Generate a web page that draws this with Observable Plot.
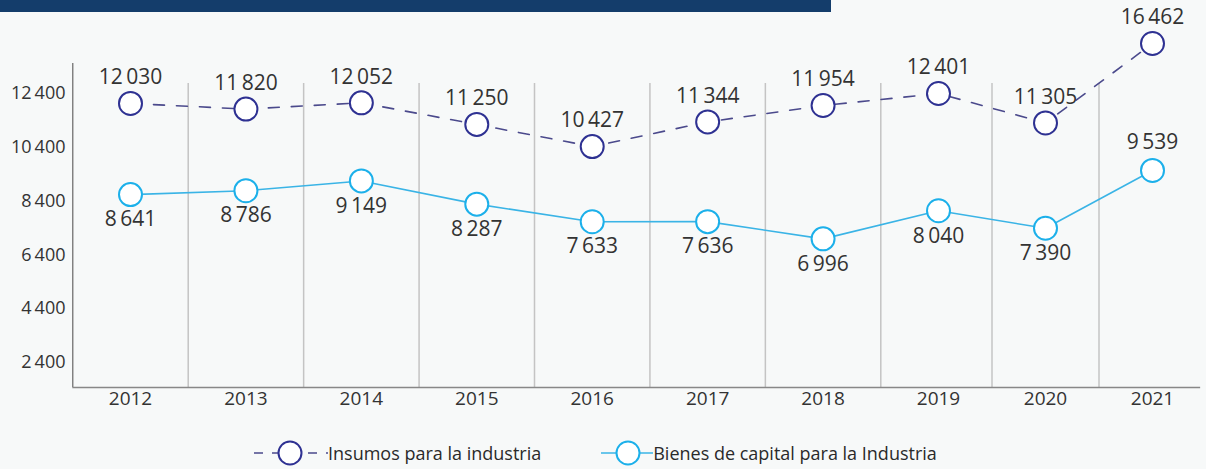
<!DOCTYPE html>
<html>
<head>
<meta charset="utf-8">
<script src="https://cdn.jsdelivr.net/npm/d3@7"></script>
<script src="https://cdn.jsdelivr.net/npm/@observablehq/plot@0.6"></script>
<style>
  html, body { margin: 0; padding: 0; background: #f7f9f9; width: 1206px; height: 469px; overflow: hidden; font-family: "Open Sans", sans-serif; }
  #topbar { position: absolute; left: 0; top: 0; width: 831px; height: 12px; background: #143d6b; }
  #chart { position: absolute; left: 0; top: 0; }
  #legend { position: absolute; left: 254px; top: 438px; display: flex; align-items: center; gap: 60px; font-size: 18px; color: #2a2a2a; }
  .item { display: flex; align-items: center; }
  .item svg { display: block; }
</style>
</head>
<body>
<div id="topbar"></div>
<div id="chart"></div>
<div id="legend"></div>
<script>
// ---- data ----
const years = [2012, 2013, 2014, 2015, 2016, 2017, 2018, 2019, 2020, 2021];
const insumos = [12030, 11820, 12052, 11250, 10427, 11344, 11954, 12401, 11305, 16462];
const bienes = [8641, 8786, 9149, 8287, 7633, 7636, 6996, 8040, 7390, 9539];
const yTicks = [2400, 4400, 6400, 8400, 10400, 12400];
const seriesNames = ["Insumos para la industria", "Bienes de capital para la Industria"];

// ---- styling / structure ----
const colInsLine = "#4b4a8c", colInsDot = "#2e3192";
const colBieLine = "#3ab4e6", colBieDot = "#1cb0ea";
const yBase = 1470, yAxisTop = 14840, gridTop = 13210;

const fmt = d3.formatLocale({decimal: ",", thousands: "\u2009", grouping: [3], currency: ["", ""]}).format(",d");

const ins = years.map((y, i) => ({year: y, value: insumos[i]}));
const bie = years.map((y, i) => ({year: y, value: bienes[i]}));
const bieMax = d3.max(bienes);
const bounds = years.slice(1).map(y => y - 0.5);

const chart = Plot.plot({
  width: 1206,
  height: 420,
  marginLeft: 72,
  marginRight: 0,
  marginTop: 0,
  marginBottom: 33,
  style: {fontFamily: "Open Sans, sans-serif", background: "transparent", overflow: "visible", color: "#333"},
  x: {type: "linear", domain: [2012, 2019, 2021], range: [130, 938, 1152], label: null},
  y: {type: "linear", domain: [yBase, 12400, 16462], range: [387, 93, 43], label: null},
  marks: [
    Plot.ruleX(bounds, {y1: yBase, y2: gridTop, stroke: "#c4c4c4", strokeWidth: 1.5}),
    Plot.ruleX([years[0] - 0.5], {y1: yBase, y2: yAxisTop, stroke: "#666", strokeWidth: 1.2}),
    Plot.ruleY([yBase], {x1: years[0] - 0.5, x2: 2021.45, stroke: "#888", strokeWidth: 1.5}),
    Plot.axisY({ticks: yTicks, tickSize: 0, tickPadding: 7, tickFormat: fmt, fontSize: 18, color: "#333", label: null}),
    Plot.axisX({ticks: years, tickSize: 0, tickPadding: 4, tickFormat: d => String(d), fontSize: 19, color: "#333", label: null}),
    Plot.line(ins, {x: "year", y: "value", stroke: colInsLine, strokeWidth: 1.6, strokeDasharray: "11,12"}),
    Plot.line(bie, {x: "year", y: "value", stroke: colBieLine, strokeWidth: 1.6}),
    Plot.dot(ins, {x: "year", y: "value", r: 11.5, fill: "white", stroke: colInsDot, strokeWidth: 2}),
    Plot.dot(bie, {x: "year", y: "value", r: 11.5, fill: "white", stroke: colBieDot, strokeWidth: 2}),
    Plot.text(ins, {x: "year", y: "value", text: d => fmt(d.value), dy: -26, fontSize: 21, fill: "#333"}),
    Plot.text(bie, {filter: d => d.value !== bieMax, x: "year", y: "value", text: d => fmt(d.value), dy: 25, fontSize: 21, fill: "#333"}),
    Plot.text(bie, {filter: d => d.value === bieMax, x: "year", y: "value", text: d => fmt(d.value), dy: -28, fontSize: 21, fill: "#333"})
  ]
});
document.getElementById("chart").appendChild(chart);

// ---- legend ----
const legend = document.getElementById("legend");
function swatch(w, cx, line, dot, dash) {
  return `<svg width="${w}" height="30"><line x1="0" x2="${w}" y1="15" y2="15" stroke="${line}" stroke-width="1.6" ${dash ? `stroke-dasharray="${dash}"` : ""}/>` +
    `<circle cx="${cx}" cy="15" r="11.5" fill="white" stroke="${dot}" stroke-width="2"/></svg>`;
}
legend.innerHTML =
  `<div class="item">${swatch(74, 36, colInsLine, colInsDot, "9,9")}<span>${seriesNames[0]}</span></div>` +
  `<div class="item">${swatch(52, 27, colBieLine, colBieDot, null)}<span>${seriesNames[1]}</span></div>`;
</script>
</body>
</html>
